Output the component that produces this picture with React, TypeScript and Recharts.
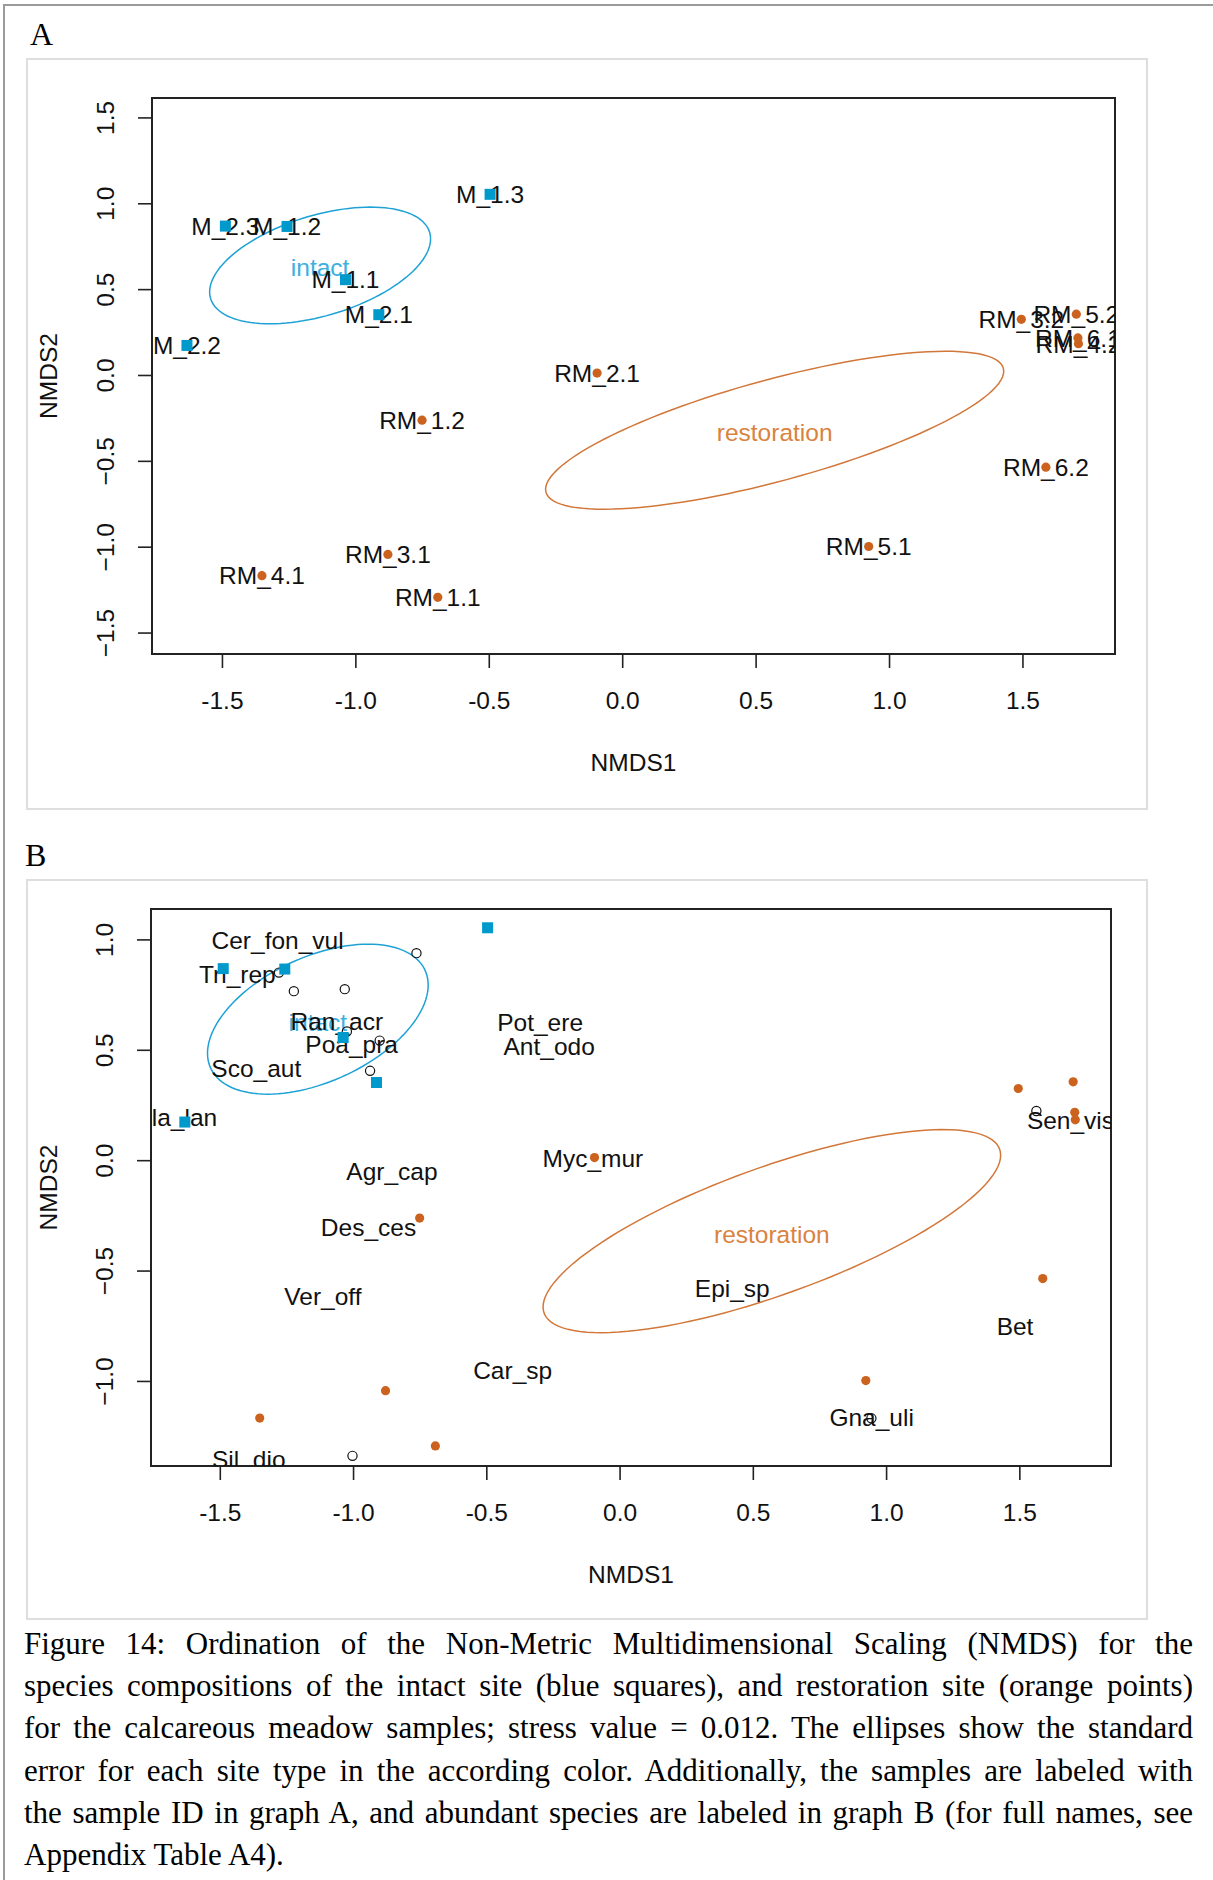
import React from "react";
import { ReferenceArea, Scatter, ScatterChart, XAxis, YAxis } from "recharts";

// axes
const X_TICKS = [-1.5, -1, -0.5, 0, 0.5, 1, 1.5];
const Y_TICKS_A = [-1.5, -1, -0.5, 0, 0.5, 1, 1.5];
const Y_TICKS_B = [-1, -0.5, 0, 0.5, 1];
const X_DOMAIN_A = [-1.764, 1.845];
const Y_DOMAIN_A = [-1.622, 1.616];
const X_DOMAIN_B = [-1.76, 1.842];
const Y_DOMAIN_B = [-1.383, 1.14];

// sites: intact (blue squares)
const INTACT_IDS = ["M_1.1", "M_1.2", "M_1.3", "M_2.1", "M_2.2", "M_2.3"];
const INTACT_X = [-1.039, -1.258, -0.497, -0.914, -1.633, -1.489];
const INTACT_Y = [0.558, 0.868, 1.055, 0.354, 0.175, 0.87];

// sites: restoration (orange points)
const REST_IDS = ["RM_1.1", "RM_1.2", "RM_2.1", "RM_3.1", "RM_3.2", "RM_4.1", "RM_4.2", "RM_5.1", "RM_5.2", "RM_6.1", "RM_6.2"];
const REST_X = [-0.693, -0.752, -0.096, -0.88, 1.494, -1.352, 1.708, 0.922, 1.7, 1.706, 1.586];
const REST_Y = [-1.292, -0.26, 0.014, -1.042, 0.327, -1.166, 0.185, -0.996, 0.357, 0.219, -0.534];

// species labelled in graph B
const SPECIES_LABELS = ["Cer_fon_vul", "Tri_rep", "Ran_acr", "Poa_pra", "Sco_aut", "Pla_lan", "Pot_ere", "Ant_odo", "Myc_mur", "Agr_cap", "Des_ces", "Ver_off", "Epi_sp", "Bet", "Car_sp", "Gna_uli", "Sil_dio", "Sen_vis"];
const SPECIES_X = [-1.285, -1.436, -1.063, -1.007, -1.365, -1.665, -0.3, -0.266, -0.102, -0.856, -0.944, -1.115, 0.421, 1.482, -0.403, 0.944, -1.393, 1.69];
const SPECIES_Y = [0.997, 0.846, 0.634, 0.529, 0.419, 0.197, 0.625, 0.52, 0.011, -0.047, -0.302, -0.614, -0.578, -0.751, -0.948, -1.16, -1.351, 0.184];

// other species (open circles)
const OTHER_X = [-0.764, -1.28, -1.224, -1.033, -1.025, -0.902, -0.938, -1.004, 0.943, 1.562];
const OTHER_Y = [0.94, 0.852, 0.768, 0.777, 0.585, 0.544, 0.407, -1.337, -1.167, 0.225];

// standard-error ellipses: centre and covariance [xx, xy, yy]
const INTACT_CENTER = [-1.134, 0.641];
const INTACT_COV = [0.1714, 0.064, 0.1153];
const REST_CENTER = [0.5695, -0.319];
const REST_COV = [0.737, 0.295, 0.2116];

const CAPTION_LINES = [
  "Figure 14: Ordination of the Non-Metric Multidimensional Scaling (NMDS) for the",
  "species compositions of the intact site (blue squares), and restoration site (orange points)",
  "for the calcareous meadow samples; stress value = 0.012. The ellipses show the standard",
  "error for each site type in the according color. Additionally, the samples are labeled with",
  "the sample ID in graph A, and abundant species are labeled in graph B (for full names, see",
  "Appendix Table A4).",
];

const BLUE = "#0099cc";
const BLUE_LINE = "#1ea2d6";
const BLUE_TEXT = "#3cb0df";
const ORANGE = "#cb631f";
const ORANGE_LINE = "#d2773a";
const ORANGE_TEXT = "#d9833f";
const SANS = '"Liberation Sans", Arial, sans-serif';
const SERIF = '"Liberation Serif", "Times New Roman", serif';
const FS = 24.5;

const zipPts = (xs: number[], ys: number[], labels?: string[]) =>
  xs.map((x, i) => ({ x, y: ys[i], label: labels ? labels[i] : "" }));

function ellipsePts(center: number[], cov: number[]) {
  const a = Math.sqrt(cov[0]);
  const b = cov[1] / a;
  const c = Math.sqrt(cov[2] - b * b);
  const pts = [];
  for (let i = 0; i <= 120; i++) {
    const t = (i / 120) * Math.PI * 2;
    pts.push({ x: center[0] + a * Math.cos(t), y: center[1] + b * Math.cos(t) + c * Math.sin(t) });
  }
  return pts;
}

const intactSites = zipPts(INTACT_X, INTACT_Y, INTACT_IDS);
const restSites = zipPts(REST_X, REST_Y, REST_IDS);
const speciesLabels = zipPts(SPECIES_X, SPECIES_Y, SPECIES_LABELS);
const otherSpecies = zipPts(OTHER_X, OTHER_Y);
const intactEllipse = ellipsePts(INTACT_CENTER, INTACT_COV);
const restEllipse = ellipsePts(REST_CENTER, REST_COV);
const groupLabels = [
  { x: INTACT_CENTER[0], y: INTACT_CENTER[1] - 0.012, label: "intact", color: BLUE_TEXT },
  { x: REST_CENTER[0], y: REST_CENTER[1] - 0.012, label: "restoration", color: ORANGE_TEXT },
];

const Square = (p: any) => <rect x={p.cx - 5.5} y={p.cy - 5.5} width={11} height={11} fill={BLUE} />;
const Dot = (p: any) => <circle cx={p.cx} cy={p.cy} r={4.6} fill={ORANGE} />;
const Ring = (p: any) => <circle cx={p.cx} cy={p.cy} r={4.6} fill="none" stroke="#111" strokeWidth={1.2} />;
const Nothing = () => <g />;
const TextMark = (p: any) => (
  <text x={p.cx} y={p.cy + 8.8} textAnchor="middle" fontSize={FS} fontFamily={SANS} fill={p.payload.color ?? "#111"}>
    {p.payload.label}
  </text>
);

type Frame = { left: number; right: number; top: number; bottom: number };

function axisParts(f: Frame, yTicks: number[], xDomain: number[], yDomain: number[], chartH: number) {
  const xTick = (p: any) => (
    <text x={p.x} y={f.bottom + 46 + 8.8} textAnchor="middle" fontSize={FS} fontFamily={SANS} fill="#111">
      {p.payload.value.toFixed(1)}
    </text>
  );
  const yTick = (p: any) => {
    const bx = f.left - 37.5;
    return (
      <text x={bx} y={p.y} transform={`rotate(-90 ${bx} ${p.y})`} textAnchor="middle" fontSize={FS} fontFamily={SANS} fill="#111">
        {p.payload.value.toFixed(1).replace("-", "\u2212")}
      </text>
    );
  };
  const xTitle = () => (
    <text x={(f.left + f.right) / 2} y={f.bottom + 108 + 8.8} textAnchor="middle" fontSize={FS} fontFamily={SANS} fill="#111">
      NMDS1
    </text>
  );
  const yc = (f.top + f.bottom) / 2;
  const yTitle = () => (
    <text x={30.8} y={yc} transform={`rotate(-90 30.8 ${yc})`} textAnchor="middle" fontSize={FS} fontFamily={SANS} fill="#111">
      NMDS2
    </text>
  );
  return [
    <XAxis
      key="x"
      type="number"
      dataKey="x"
      domain={xDomain}
      ticks={X_TICKS}
      interval={0}
      allowDataOverflow
      axisLine={false}
      tickLine={{ stroke: "#222", strokeWidth: 1.6 }}
      tickSize={14}
      tick={xTick}
      height={chartH - f.bottom}
      label={{ value: "NMDS1", content: xTitle }}
    />,
    <YAxis
      key="y"
      type="number"
      dataKey="y"
      domain={yDomain}
      ticks={yTicks}
      interval={0}
      allowDataOverflow
      axisLine={false}
      tickLine={{ stroke: "#222", strokeWidth: 1.6 }}
      tickSize={14}
      tick={yTick}
      width={f.left}
      label={{ value: "NMDS2", content: yTitle }}
    />,
    <ReferenceArea
      key="box"
      x1={xDomain[0]}
      x2={xDomain[1]}
      y1={yDomain[0]}
      y2={yDomain[1]}
      fill="none"
      fillOpacity={0}
      stroke="#222"
      strokeWidth={2}
      ifOverflow="visible"
    />,
  ];
}

const FRAME_A: Frame = { left: 126, right: 1089, top: 40, bottom: 596 };
const FRAME_B: Frame = { left: 125, right: 1085, top: 30, bottom: 587 };

function SiteMap() {
  const W = 1122;
  const H = 752;
  const f = FRAME_A;
  return (
    <ScatterChart width={W} height={H} margin={{ top: f.top, right: W - f.right, bottom: 0, left: 0 }}>
      {axisParts(f, Y_TICKS_A, X_DOMAIN_A, Y_DOMAIN_A, H)}
      <Scatter data={intactEllipse} line={{ stroke: BLUE_LINE, strokeWidth: 1.5 }} shape={Nothing} isAnimationActive={false} />
      <Scatter data={restEllipse} line={{ stroke: ORANGE_LINE, strokeWidth: 1.5 }} shape={Nothing} isAnimationActive={false} />
      <Scatter data={groupLabels} shape={TextMark} isAnimationActive={false} />
      <Scatter data={intactSites} shape={TextMark} isAnimationActive={false} />
      <Scatter data={restSites} shape={TextMark} isAnimationActive={false} />
      <Scatter data={intactSites} shape={Square} isAnimationActive={false} />
      <Scatter data={restSites} shape={Dot} isAnimationActive={false} />
    </ScatterChart>
  );
}

function SpeciesMap() {
  const W = 1122;
  const H = 741;
  const f = FRAME_B;
  return (
    <ScatterChart width={W} height={H} margin={{ top: f.top, right: W - f.right, bottom: 0, left: 0 }}>
      {axisParts(f, Y_TICKS_B, X_DOMAIN_B, Y_DOMAIN_B, H)}
      <Scatter data={intactEllipse} line={{ stroke: BLUE_LINE, strokeWidth: 1.5 }} shape={Nothing} isAnimationActive={false} />
      <Scatter data={restEllipse} line={{ stroke: ORANGE_LINE, strokeWidth: 1.5 }} shape={Nothing} isAnimationActive={false} />
      <Scatter data={groupLabels} shape={TextMark} isAnimationActive={false} />
      <Scatter data={speciesLabels} shape={TextMark} isAnimationActive={false} />
      <Scatter data={otherSpecies} shape={Ring} isAnimationActive={false} />
      <Scatter data={intactSites} shape={Square} isAnimationActive={false} />
      <Scatter data={restSites} shape={Dot} isAnimationActive={false} />
    </ScatterChart>
  );
}

const panelBox = (top: number, height: number): React.CSSProperties => ({
  position: "absolute",
  left: 26,
  top,
  width: 1122,
  height,
  boxSizing: "border-box",
  border: "2px solid #dedede",
});

export default function App() {
  return (
    <div style={{ position: "relative", width: 1213, height: 1880, background: "#fff", overflow: "hidden" }}>
      <style>{"body{margin:0}"}</style>
      <div style={{ position: "absolute", left: 3, top: 4, right: 0, bottom: 0, borderTop: "2px solid #9a9a9a", borderLeft: "2px solid #9a9a9a" }} />
      <div style={{ position: "absolute", left: 30, top: 18, fontFamily: SERIF, fontSize: 32, lineHeight: "32px" }}>A</div>
      <div style={panelBox(58, 752)}>
        <div style={{ position: "absolute", left: -2, top: -2 }}>
          <SiteMap />
        </div>
      </div>
      <div style={{ position: "absolute", left: 25, top: 839, fontFamily: SERIF, fontSize: 32, lineHeight: "32px" }}>B</div>
      <div style={panelBox(879, 741)}>
        <div style={{ position: "absolute", left: -2, top: -2 }}>
          <SpeciesMap />
        </div>
      </div>
      <div style={{ position: "absolute", left: 24, top: 1623, width: 1169, fontFamily: SERIF, fontSize: 31, lineHeight: "42.2px", color: "#000" }}>
        {CAPTION_LINES.map((line, i) => (
          <div
            key={i}
            style={{
              whiteSpace: "nowrap",
              textAlign: i === CAPTION_LINES.length - 1 ? "left" : "justify",
              textAlignLast: i === CAPTION_LINES.length - 1 ? "left" : "justify",
            }}
          >
            {line}
          </div>
        ))}
      </div>
    </div>
  );
}
